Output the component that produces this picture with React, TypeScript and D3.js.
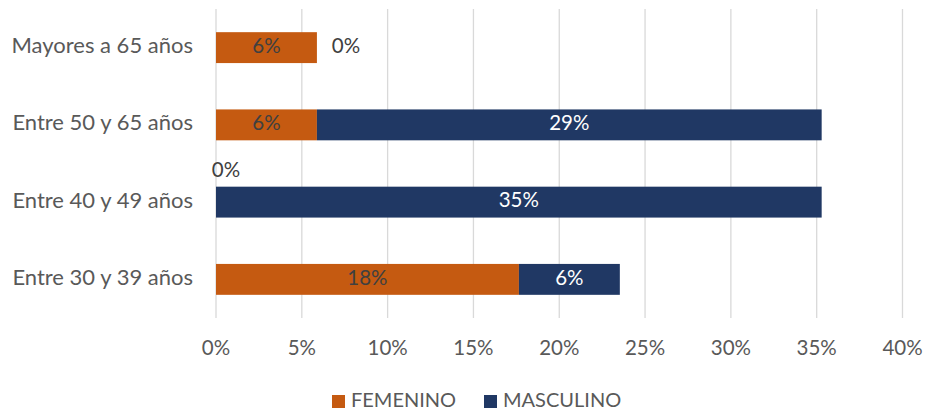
import React from "react";
import * as d3 from "d3";

const categories = ["Mayores a 65 años", "Entre 50 y 65 años", "Entre 40 y 49 años", "Entre 30 y 39 años"];
const femenino = [0.0588, 0.0588, 0, 0.1765];
const masculino = [0, 0.2941, 0.3529, 0.0588];
const ticks = [0, 0.05, 0.1, 0.15, 0.2, 0.25, 0.3, 0.35, 0.4];
const seriesNames = ["FEMENINO", "MASCULINO"];
const colors = ["#C55A11", "#203864"];

const W = 926, H = 413;
const FONT = "Lato, Carlito, Calibri, sans-serif";

export default function App() {
  const x = d3.scaleLinear().domain([0, 0.4]).range([216, 902.5]);
  const y = d3.scaleBand().domain(categories).range([9, 318]).paddingInner(0.6).paddingOuter(0.3);
  const fmt = d3.format(".0%");
  const bh = y.bandwidth();

  return (
    <svg width={W} height={H} style={{ position: "absolute", left: 0, top: 0, background: "#fff" }}>
      <rect width={W} height={H} fill="#fff" />
      {ticks.map((t, i) => (
        <g key={i}>
          <line x1={x(t)} x2={x(t)} y1={9} y2={318} stroke="#D9D9D9" strokeWidth={1.3} />
          <text x={x(t)} y={350} textAnchor="middle" dominantBaseline="middle" fontFamily={FONT} fontSize={20.5} fill="#595959">{fmt(t)}</text>
        </g>
      ))}
      {categories.map((c, i) => {
        const cy = (y(c) as number) + bh / 2;
        const f = femenino[i], m = masculino[i];
        return (
          <g key={c}>
            <text x={193} y={cy} textAnchor="end" dominantBaseline="middle" fontFamily={FONT} fontSize={22} fill="#595959">{c}</text>
            {f > 0 && <rect x={x(0)} y={y(c)} width={x(f) - x(0)} height={bh} fill={colors[0]} />}
            {m > 0 && <rect x={x(f)} y={y(c)} width={x(f + m) - x(f)} height={bh} fill={colors[1]} />}
            {f > 0 ? (
              <text x={(x(0) + x(f)) / 2} y={cy} textAnchor="middle" dominantBaseline="middle" fontFamily={FONT} fontSize={20.5} fill="#404040">{fmt(f)}</text>
            ) : (
              <text x={x(0) + 10} y={cy - 30} textAnchor="middle" dominantBaseline="middle" fontFamily={FONT} fontSize={20.5} fill="#404040">{fmt(f)}</text>
            )}
            {m > 0 ? (
              <text x={(x(f) + x(f + m)) / 2} y={cy} textAnchor="middle" dominantBaseline="middle" fontFamily={FONT} fontSize={20.5} fill="#FFFFFF">{fmt(m)}</text>
            ) : (
              <text x={x(f) + 29} y={cy} textAnchor="middle" dominantBaseline="middle" fontFamily={FONT} fontSize={20.5} fill="#404040">{fmt(m)}</text>
            )}
          </g>
        );
      })}
      {seriesNames.map((s, i) => {
        const lx = [332, 484][i];
        return (
          <g key={s}>
            <rect x={lx} y={395} width={13} height={13} fill={colors[i]} />
            <text x={lx + 19} y={402} dominantBaseline="middle" fontFamily={FONT} fontSize={20} fill="#595959">{s}</text>
          </g>
        );
      })}
    </svg>
  );
}
